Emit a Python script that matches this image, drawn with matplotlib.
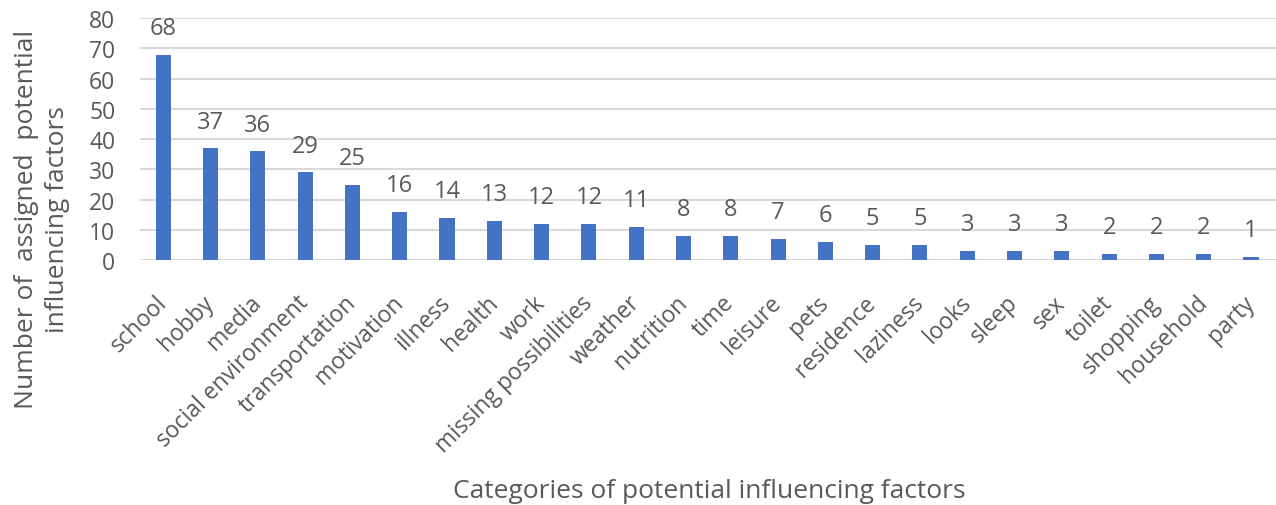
import matplotlib.pyplot as plt
import numpy as np

plt.rcParams['font.family'] = ['Open Sans', 'DejaVu Sans']

# data
categories = ['school', 'hobby', 'media', 'social environment', 'transportation',
              'motivation', 'illness', 'health', 'work', 'missing possibilities',
              'weather', 'nutrition', 'time', 'leisure', 'pets', 'residence',
              'laziness', 'looks', 'sleep', 'sex', 'toilet', 'shopping',
              'household', 'party']
counts = [68, 37, 36, 29, 25, 16, 14, 13, 12, 12, 11, 8, 8, 7, 6, 5, 5,
          3, 3, 3, 2, 2, 2, 1]
yticks = [0, 10, 20, 30, 40, 50, 60, 70, 80]

txt = '#595959'
fig = plt.figure(figsize=(12.76, 5.06), dpi=100)
ax = fig.add_axes([0.110, 0.484, 0.890, 0.478])

x = np.arange(len(categories))
ax.bar(x, counts, width=0.32, color='#4472C4', zorder=3)
for xi, v in zip(x, counts):
    ax.text(xi, v + 8.8, str(v), ha='center', va='center', fontsize=17, color=txt)

ax.set_xlim(-0.486, len(categories) - 0.47)
ax.set_ylim(0, 80)
ax.set_yticks(yticks)
ax.grid(axis='y', color='#d9d9d9', linewidth=1.5, zorder=0)
for s in ax.spines.values():
    s.set_visible(False)
ax.tick_params(axis='both', length=0, labelsize=16.5, labelcolor=txt)
ax.tick_params(axis='y', pad=18)
ax.tick_params(axis='x', pad=28)
ax.set_xticks(x)
ax.set_xticklabels(categories, rotation=45, ha='right', va='center',
                   rotation_mode='anchor')

fig.text(0.033, 0.567, 'Number of  assigned  potential\ninfluencing factors',
         rotation=90, ha='center', va='center', multialignment='center',
         fontsize=19, color=txt, linespacing=1.3)
fig.text(0.556, 0.028, 'Categories of potential influencing factors',
         ha='center', va='center', fontsize=19, color=txt)

fig.savefig('out.png', dpi=100)
